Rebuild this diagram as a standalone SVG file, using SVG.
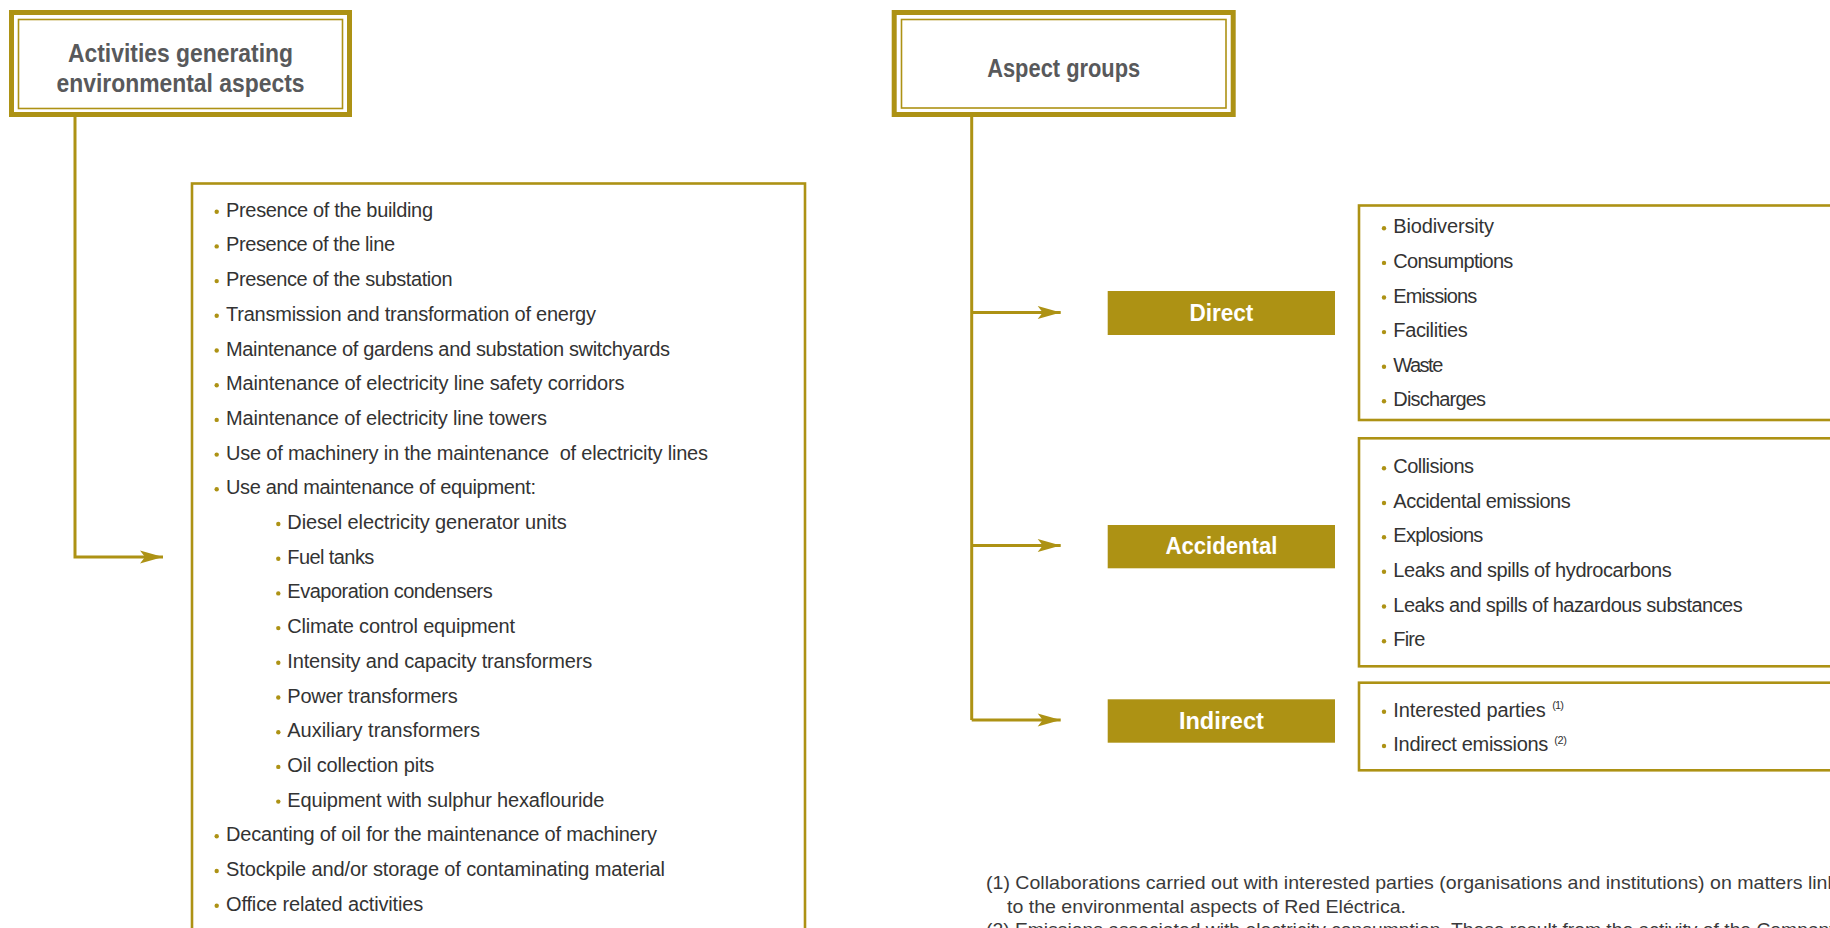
<svg xmlns="http://www.w3.org/2000/svg" width="1830" height="928" viewBox="0 0 1830 928">
<style>
.frame{fill:#fff;stroke:#ad9214;stroke-width:5}
.inner{fill:none;stroke:#ad9214;stroke-width:1.6}
.hdr{font-family:"Liberation Sans",Arial,sans-serif;font-weight:bold;font-size:25px;fill:#58595b;text-anchor:middle}
.box{fill:#fff;stroke:#ad9214;stroke-width:2.6}
.item{font-family:"Liberation Sans",Arial,sans-serif;font-size:20px;fill:#333}
.dot{fill:#ad9214}
.tag{fill:#ad9214}
.tagt{font-family:"Liberation Sans",Arial,sans-serif;font-weight:bold;font-size:23px;fill:#fff;text-anchor:middle}
.sup{font-family:"Liberation Sans",Arial,sans-serif;font-size:11px;fill:#333}
.conn{fill:none;stroke:#ad9214;stroke-width:3}
.note{font-family:"Liberation Sans",Arial,sans-serif;font-size:19px;fill:#3a3a3a}
</style>
<defs>
<marker id="arr" markerUnits="userSpaceOnUse" markerWidth="26" markerHeight="16" refX="24" refY="8" orient="auto">
<path d="M1,1.5 L24,8 L1,14.5 L6,8 Z" fill="#ad9214"/>
</marker>
</defs>
<rect width="1830" height="928" fill="#fff"/>

<g id="connectors">
<path class="conn" d="M75,117 V557 H163" marker-end="url(#arr)"/>
<path class="conn" d="M971.7,117 V720"/>
<path class="conn" d="M971.7,312.5 H1060.7" marker-end="url(#arr)"/>
<path class="conn" d="M971.7,545.5 H1060.7" marker-end="url(#arr)"/>
<path class="conn" d="M971.7,720 H1060.7" marker-end="url(#arr)"/>
</g>

<g id="activities-header">
<rect class="frame" x="11.5" y="12.5" width="338" height="102"/>
<rect class="inner" x="18.5" y="19.5" width="324" height="89"/>
<text class="hdr" x="180.5" y="62" textLength="225" lengthAdjust="spacingAndGlyphs">Activities generating</text>
<text class="hdr" x="180.5" y="92" textLength="248" lengthAdjust="spacingAndGlyphs">environmental aspects</text>
</g>

<g id="aspect-header">
<rect class="frame" x="894.2" y="12.5" width="339" height="102"/>
<rect class="inner" x="901.5" y="19.5" width="324.5" height="88.5"/>
<text class="hdr" x="1063.7" y="77.3" textLength="153" lengthAdjust="spacingAndGlyphs">Aspect groups</text>
</g>

<g id="activities-list">
<rect class="box" x="192" y="183.5" width="613" height="760"/>
<g class="dot">
<circle cx="216.7" cy="211.7" r="2.2"/><circle cx="216.7" cy="246.4" r="2.2"/><circle cx="216.7" cy="281.1" r="2.2"/><circle cx="216.7" cy="315.8" r="2.2"/><circle cx="216.7" cy="350.5" r="2.2"/><circle cx="216.7" cy="385.2" r="2.2"/><circle cx="216.7" cy="419.9" r="2.2"/><circle cx="216.7" cy="454.6" r="2.2"/><circle cx="216.7" cy="489.3" r="2.2"/>
<circle cx="278.3" cy="524" r="2.2"/><circle cx="278.3" cy="558.7" r="2.2"/><circle cx="278.3" cy="593.4" r="2.2"/><circle cx="278.3" cy="628.1" r="2.2"/><circle cx="278.3" cy="662.8" r="2.2"/><circle cx="278.3" cy="697.5" r="2.2"/><circle cx="278.3" cy="732.2" r="2.2"/><circle cx="278.3" cy="766.9" r="2.2"/><circle cx="278.3" cy="801.6" r="2.2"/>
<circle cx="216.7" cy="836.3" r="2.2"/><circle cx="216.7" cy="871" r="2.2"/><circle cx="216.7" cy="905.7" r="2.2"/>
</g>
<text class="item" x="226" y="216.7" textLength="207">Presence of the building</text>
<text class="item" x="226" y="251.4" textLength="169">Presence of the line</text>
<text class="item" x="226" y="286.1" textLength="226.7">Presence of the substation</text>
<text class="item" x="226" y="320.8" textLength="370">Transmission and transformation of energy</text>
<text class="item" x="226" y="355.5" textLength="444">Maintenance of gardens and substation switchyards</text>
<text class="item" x="226" y="390.2" textLength="398.5">Maintenance of electricity line safety corridors</text>
<text class="item" x="226" y="424.9" textLength="321">Maintenance of electricity line towers</text>
<text class="item" x="226" y="459.6" textLength="482" xml:space="preserve">Use of machinery in the maintenance  of electricity lines</text>
<text class="item" x="226" y="494.3" textLength="310">Use and maintenance of equipment:</text>
<text class="item" x="287.3" y="529" textLength="279.4">Diesel electricity generator units</text>
<text class="item" x="287.3" y="563.7" textLength="87">Fuel tanks</text>
<text class="item" x="287.3" y="598.4" textLength="205.4">Evaporation condensers</text>
<text class="item" x="287.3" y="633.1" textLength="227.7">Climate control equipment</text>
<text class="item" x="287.3" y="667.8" textLength="305">Intensity and capacity transformers</text>
<text class="item" x="287.3" y="702.5" textLength="170.4">Power transformers</text>
<text class="item" x="287.3" y="737.2" textLength="192.7">Auxiliary transformers</text>
<text class="item" x="287.3" y="771.9" textLength="147">Oil collection pits</text>
<text class="item" x="287.3" y="806.6" textLength="317">Equipment with sulphur hexaflouride</text>
<text class="item" x="226" y="841.3" textLength="431">Decanting of oil for the maintenance of machinery</text>
<text class="item" x="226" y="876" textLength="439">Stockpile and/or storage of contaminating material</text>
<text class="item" x="226" y="910.7" textLength="197.3">Office related activities</text>
</g>

<g id="direct">
<rect class="tag" x="1107.7" y="291" width="227.3" height="44"/>
<text class="tagt" x="1221.4" y="320.7" textLength="64" lengthAdjust="spacingAndGlyphs">Direct</text>
</g>
<g id="direct-list">
<rect class="box" x="1359" y="205.5" width="490" height="214.5"/>
<g class="dot">
<circle cx="1384" cy="228.3" r="2.2"/><circle cx="1384" cy="262.9" r="2.2"/><circle cx="1384" cy="297.5" r="2.2"/><circle cx="1384" cy="332.1" r="2.2"/><circle cx="1384" cy="366.7" r="2.2"/><circle cx="1384" cy="401.3" r="2.2"/>
</g>
<text class="item" x="1393.3" y="233.3" textLength="100.7">Biodiversity</text>
<text class="item" x="1393.3" y="267.9" textLength="120">Consumptions</text>
<text class="item" x="1393.3" y="302.5" textLength="84">Emissions</text>
<text class="item" x="1393.3" y="337.1" textLength="74.4">Facilities</text>
<text class="item" x="1393.3" y="371.7" textLength="50">Waste</text>
<text class="item" x="1393.3" y="406.3" textLength="92.7">Discharges</text>
</g>

<g id="accidental">
<rect class="tag" x="1107.7" y="525" width="227.3" height="43.3"/>
<text class="tagt" x="1221.4" y="554.4" textLength="112" lengthAdjust="spacingAndGlyphs">Accidental</text>
</g>
<g id="accidental-list">
<rect class="box" x="1359" y="438.3" width="490" height="228"/>
<g class="dot">
<circle cx="1384" cy="468.3" r="2.2"/><circle cx="1384" cy="503" r="2.2"/><circle cx="1384" cy="537.3" r="2.2"/><circle cx="1384" cy="571.7" r="2.2"/><circle cx="1384" cy="606.5" r="2.2"/><circle cx="1384" cy="641.3" r="2.2"/>
</g>
<text class="item" x="1393.3" y="473.3" textLength="80.7">Collisions</text>
<text class="item" x="1393.3" y="508" textLength="177.4">Accidental emissions</text>
<text class="item" x="1393.3" y="542.3" textLength="90">Explosions</text>
<text class="item" x="1393.3" y="576.7" textLength="278.4">Leaks and spills of hydrocarbons</text>
<text class="item" x="1393.3" y="611.5" textLength="349.4">Leaks and spills of hazardous substances</text>
<text class="item" x="1393.3" y="646.3" textLength="32">Fire</text>
</g>

<g id="indirect">
<rect class="tag" x="1107.7" y="699.3" width="227.3" height="43.4"/>
<text class="tagt" x="1221.4" y="728.7" textLength="85" lengthAdjust="spacingAndGlyphs">Indirect</text>
</g>
<g id="indirect-list">
<rect class="box" x="1359" y="682.7" width="490" height="87.6"/>
<g class="dot">
<circle cx="1384" cy="711.7" r="2.2"/><circle cx="1384" cy="746" r="2.2"/>
</g>
<text class="item" x="1393.3" y="716.7" textLength="152.4">Interested parties</text>
<text class="sup" x="1552.3" y="709" textLength="11.7">(1)</text>
<text class="item" x="1393.3" y="751" textLength="155">Indirect emissions</text>
<text class="sup" x="1554.3" y="743.5" textLength="12.7">(2)</text>
</g>

<g id="footnotes">
<text class="note" x="986" y="889" textLength="873" lengthAdjust="spacingAndGlyphs">(1) Collaborations carried out with interested parties (organisations and institutions) on matters linked</text>
<text class="note" x="1007" y="912.5" textLength="399" lengthAdjust="spacingAndGlyphs">to the environmental aspects of Red Eléctrica.</text>
<text class="note" x="986" y="936" textLength="853" lengthAdjust="spacingAndGlyphs">(2) Emissions associated with electricity consumption. These result from the activity of the Company</text>
</g>
</svg>
